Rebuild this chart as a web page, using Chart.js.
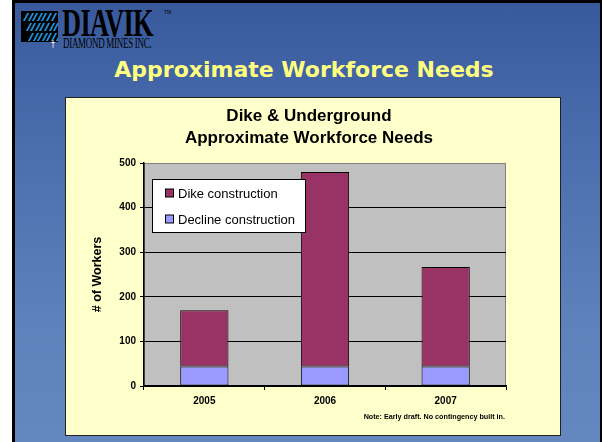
<!DOCTYPE html>
<html>
<head>
<meta charset="utf-8">
<script src="https://cdn.jsdelivr.net/npm/chart.js@4"></script>
<style>
  html, body { margin: 0; padding: 0; width: 602px; height: 442px; overflow: hidden; background: #fff; }
  #slide { position: absolute; left: 12px; top: 0; width: 590px; height: 442px; box-sizing: border-box;
    border-left: 3px solid #000; border-top: 3px solid #000; border-right: 2px solid #000;
    background: linear-gradient(to bottom, #385a9c 0%, #4a6cad 30%, #5f82bc 75%, #6487c0 100%); }
  #logoBox { position: absolute; left: 21px; top: 11px; width: 37px; height: 31px; background: #000; overflow: hidden; }
  #logoBox .s { position: absolute; width: 2px; height: 8px; background: #1e8fd8; transform: skewX(-28deg); }
  #logoTxt { position: absolute; left: 62px; top: 3px; font-family: "Liberation Serif", serif; font-weight: bold;
    font-size: 40px; color: #000; transform: scaleX(0.66); transform-origin: left top; letter-spacing: -1px; line-height: 1; }
  #logoSub { position: absolute; left: 63px; top: 36px; font-family: "Liberation Serif", serif; font-size: 15px;
    color: #000; transform: scaleX(0.6); transform-origin: left top; letter-spacing: -0.5px; line-height: 1; white-space: nowrap; }
  #tm { position: absolute; left: 164px; top: 9px; font-family: "Liberation Sans", sans-serif; font-size: 5px; color: #000; }
  #cross { position: absolute; left: 51px; top: 41px; color: #fff; font-size: 8px; font-family: "DejaVu Sans"; line-height: 1; }
  #mainTitle { position: absolute; left: 3px; width: 602px; top: 59px; text-align: center; font-family: "DejaVu Sans", Verdana, sans-serif;
    font-weight: bold; font-size: 22px; color: #ffff80; line-height: 1; }
  #panel { position: absolute; left: 65px; top: 97px; width: 496px; height: 339px; box-sizing: border-box;
    background: #ffffcc; border: 1px solid #222; }
  #c { position: absolute; left: 0; top: 0; }
</style>
</head>
<body>
<div id="slide"></div>
<div id="logoBox"></div>
<div id="logoTxt">DIAVIK</div>
<div id="logoSub">DIAMOND MINES INC.</div>
<div id="tm">TM</div>
<div id="cross">†</div>
<div id="mainTitle">Approximate Workforce Needs</div>
<div id="panel"></div>
<canvas id="c" width="602" height="442"></canvas>
<script>
// ---- data ----
const years = ["2005", "2006", "2007"];
const declineConstruction = [44, 44, 44];
const dikeConstruction = [126, 436, 223];
const seriesNames = ["Decline construction", "Dike construction"];
const chartTitle = ["Dike & Underground", "Approximate Workforce Needs"];
const yAxisTitle = "# of Workers";
const yTicks = [0, 100, 200, 300, 400, 500];
const noteText = "Note: Early draft. No contingency built in.";

// logo stripes
(function(){
  const box = document.getElementById('logoBox');
  for (let r = 0; r < 3; r++) {
    for (let c = 0; c < 7; c++) {
      const d = document.createElement('div');
      d.className = 's';
      d.style.left = (4 + c * 4.6 + r * 2.5) + 'px';
      d.style.top = (2 + r * 10) + 'px';
      box.appendChild(d);
    }
  }
})();

const FONT = "'Liberation Sans', Arial, sans-serif";

const plotBg = {
  id: 'plotBg',
  beforeDraw(chart) {
    const {ctx, chartArea: a} = chart;
    ctx.save();
    ctx.fillStyle = '#c0c0c0';
    ctx.fillRect(a.left, a.top, a.right - a.left, a.bottom - a.top);
    ctx.strokeStyle = '#808080';
    ctx.lineWidth = 1;
    ctx.strokeRect(a.left + 0.5, a.top + 0.5, a.right - a.left - 1, a.bottom - a.top);
    ctx.restore();
  }
};

const titleAndLegend = {
  id: 'titleAndLegend',
  afterDraw(chart) {
    const ctx = chart.ctx;
    ctx.save();
    // chart title
    ctx.fillStyle = '#000';
    ctx.font = "bold 17px " + FONT;
    ctx.textAlign = 'center';
    ctx.textBaseline = 'middle';
    ctx.fillText(chartTitle[0], 309, 116);
    ctx.fillText(chartTitle[1], 309, 138.5);
    // note
    ctx.font = "bold 7.2px " + FONT;
    ctx.textAlign = 'right';
    ctx.fillText(noteText, 505, 417);
    // legend
    const lx = 152, ly = 179, lw = 153, lh = 53;
    ctx.fillStyle = '#fff';
    ctx.fillRect(lx, ly, lw, lh);
    ctx.strokeStyle = '#000';
    ctx.lineWidth = 1;
    ctx.strokeRect(lx + 0.5, ly + 0.5, lw, lh);
    const ds = chart.data.datasets.slice().reverse();
    ctx.font = "13px " + FONT;
    ctx.textAlign = 'left';
    ds.forEach((d, i) => {
      const cy = 193.5 + i * 26;
      ctx.fillStyle = d.backgroundColor;
      ctx.fillRect(165.5, cy - 4.5, 8, 8);
      ctx.strokeStyle = '#000';
      ctx.strokeRect(165.5, cy - 4.5, 8, 8);
      ctx.fillStyle = '#000';
      ctx.fillText(d.label, 178, cy + 0.5);
    });
    ctx.restore();
  }
};

new Chart(document.getElementById('c'), {
  type: 'bar',
  data: {
    labels: years,
    datasets: [
      { label: seriesNames[0], data: declineConstruction, backgroundColor: '#9999ff', borderColor: '#000', borderWidth: 1, borderSkipped: false,
        barPercentage: 0.4, categoryPercentage: 1.0 },
      { label: seriesNames[1], data: dikeConstruction, backgroundColor: '#993366', borderColor: '#000', borderWidth: 1, borderSkipped: false,
        barPercentage: 0.4, categoryPercentage: 1.0 }
    ]
  },
  options: {
    responsive: false,
    animation: false,
    events: [],
    layout: { padding: { left: 80, right: 96, top: 163, bottom: 26 } },
    plugins: { legend: { display: false }, title: { display: false }, tooltip: { enabled: false } },
    scales: {
      x: {
        stacked: true,
        afterFit(s) { s.height = 30; },
        grid: { offset: true, drawOnChartArea: false, drawTicks: true, tickLength: 4, color: '#000' },
        border: { display: true, color: '#000', width: 1.5 },
        ticks: { color: '#000', font: { family: FONT, size: 10, weight: 'bold' }, padding: 5 }
      },
      y: {
        stacked: true,
        min: 0, max: 500,
        afterFit(s) { s.width = 64; },
        afterBuildTicks(s) { s.ticks = yTicks.map(v => ({ value: v })); },
        grid: { color: ctx => (ctx.tick && ctx.tick.value === 500) ? '#808080' : '#000', lineWidth: 1, tickLength: 4, tickColor: '#000' },
        border: { display: true, color: '#000', width: 1.5 },
        title: { display: true, text: yAxisTitle, color: '#000', font: { family: FONT, size: 12.5, weight: 'bold' }, padding: { top: 10, bottom: 0 } },
        ticks: { color: '#000', font: { family: FONT, size: 10, weight: 'bold' }, padding: 4 }
      }
    }
  },
  plugins: [plotBg, titleAndLegend]
});
</script>
</body>
</html>
